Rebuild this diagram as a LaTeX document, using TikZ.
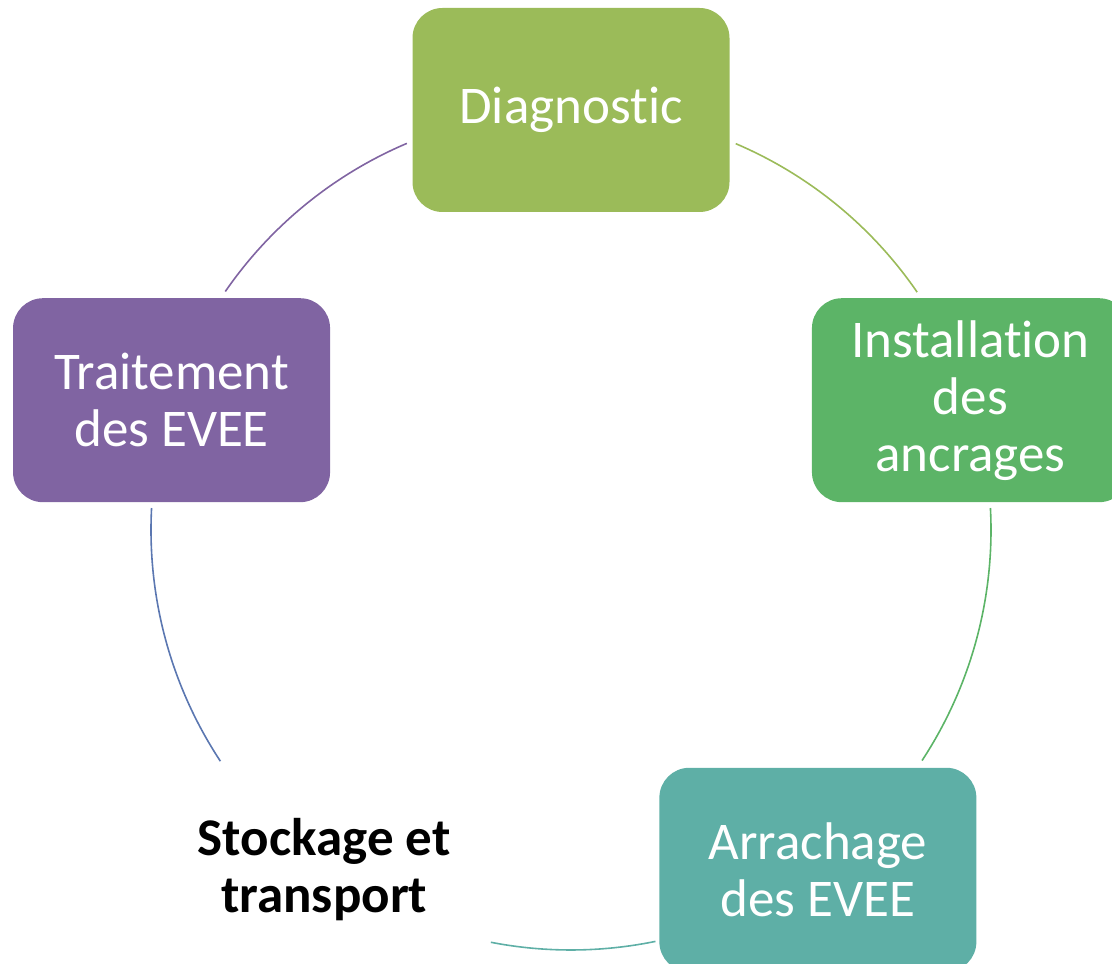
\documentclass[tikz,border=0pt]{standalone}
\usepackage{fontspec}
\setmainfont{Carlito}[Ligatures=NoCommon]
\usepackage{xcolor}
\usepackage{tikz}
\usetikzlibrary{calc}

\definecolor{diagcol}{HTML}{9BBB59}
\definecolor{instcol}{HTML}{5CB467}
\definecolor{arrcol}{HTML}{5EAFA6}
\definecolor{stockcol}{HTML}{5B77B1}
\definecolor{traitcol}{HTML}{8064A2}

\tikzset{
	stepbox/.style={rounded corners=30pt, minimum width=317pt, minimum height=204pt,
		align=center, text=white, font=\fontsize{53}{57}\selectfont},
	cyclearc/.style={line width=1.6pt}
}

\begin{document}
\begin{tikzpicture}[x=1pt,y=1pt]
	\useasboundingbox (0,0) rectangle (1112,964);
	\coordinate (c) at (571,434);
	
	\node[stepbox, fill=diagcol] (diag) at ($(c)+(90:420)$) {Diagnostic};
	\node[stepbox, fill=instcol] (inst) at ($(c)+(18:420)$) {Installation\\des\\ancrages};
	\node[stepbox, fill=arrcol] (arr) at ($(c)+(-54:420)$) {Arrachage\\des EVEE};
	\node[stepbox, text=black, font=\fontsize{53}{57}\selectfont\bfseries] (stock) at ($(c)+(-126:420)$) {Stockage et\\transport};
	\node[stepbox, fill=traitcol] (trait) at ($(c)+(162:420)$) {Traitement\\des EVEE};
	
	% arcs between the steps
	\foreach \a/\b/\col in {66.9/34.5/diagcol, 3/-33.3/instcol, -78.4/-101/arrcol,
		-146.6/-183/stockcol, -214.6/-247/traitcol}
		\draw[cyclearc, \col] ($(c)+(\a:420)$) arc[start angle=\a, end angle=\b, radius=420pt];
\end{tikzpicture}
\end{document}
